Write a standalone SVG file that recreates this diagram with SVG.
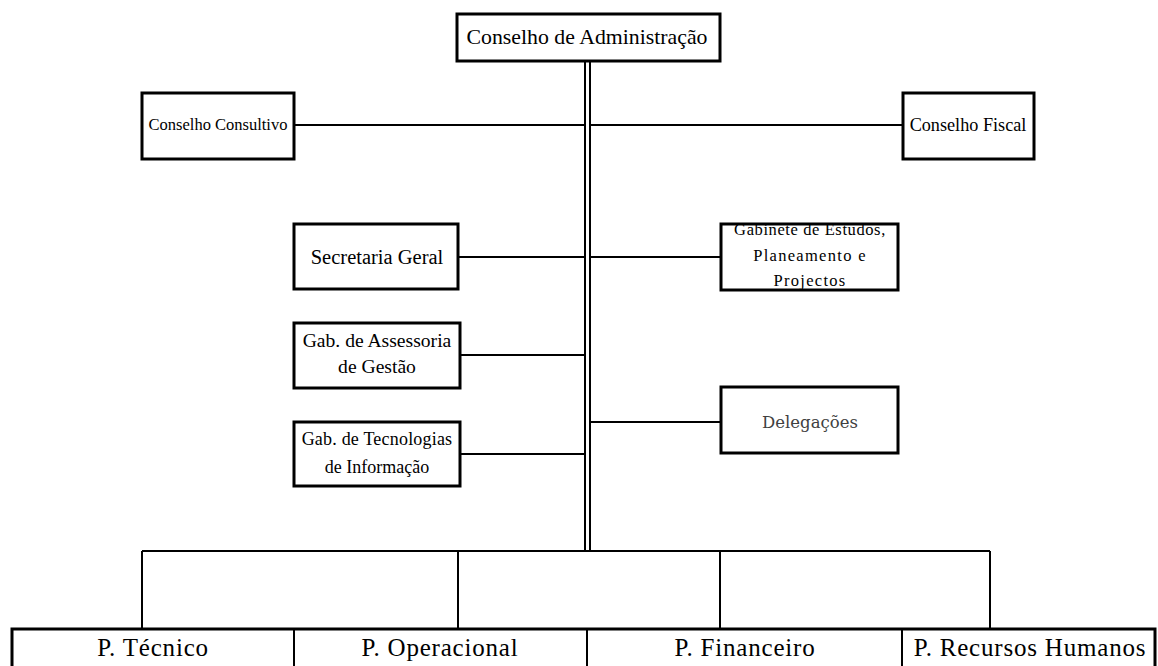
<svg xmlns="http://www.w3.org/2000/svg" width="1158" height="666" viewBox="0 0 1158 666">
<style>
.box{fill:#fff;stroke:#000;stroke-width:3}
.ln{stroke:#000;stroke-width:2;fill:none}
.t{font-family:"Liberation Serif","Times New Roman",serif;fill:#000;text-anchor:middle}
.b{font-size:25px;letter-spacing:0.8px}
</style>
<rect width="1158" height="666" fill="#fff"/>
<g id="connectors">
<line class="ln" x1="585" y1="61" x2="585" y2="551"/>
<line class="ln" x1="590" y1="61" x2="590" y2="551"/>
<line class="ln" x1="294" y1="125" x2="585" y2="125"/>
<line class="ln" x1="590" y1="125" x2="903" y2="125"/>
<line class="ln" x1="458" y1="257" x2="585" y2="257"/>
<line class="ln" x1="590" y1="257" x2="721" y2="257"/>
<line class="ln" x1="460" y1="355" x2="585" y2="355"/>
<line class="ln" x1="590" y1="422" x2="721" y2="422"/>
<line class="ln" x1="460" y1="454" x2="585" y2="454"/>
<line class="ln" x1="142" y1="551" x2="990" y2="551"/>
<line class="ln" x1="142" y1="551" x2="142" y2="629"/>
<line class="ln" x1="458" y1="551" x2="458" y2="629"/>
<line class="ln" x1="720" y1="551" x2="720" y2="629"/>
<line class="ln" x1="990" y1="551" x2="990" y2="629"/>
</g>
<g id="n-admin">
<rect class="box" x="457" y="14" width="263" height="47"/>
<text class="t" x="587" y="44" font-size="21.8">Conselho de Administração</text>
</g>
<g id="n-consultivo">
<rect class="box" x="142" y="93" width="152" height="66"/>
<text class="t" x="218" y="130" font-size="16.5">Conselho Consultivo</text>
</g>
<g id="n-fiscal">
<rect class="box" x="903" y="93" width="131" height="66"/>
<text class="t" x="968" y="131" font-size="18.2">Conselho Fiscal</text>
</g>
<g id="n-secretaria">
<rect class="box" x="294" y="224" width="164" height="65"/>
<text class="t" x="377" y="264" font-size="20.5">Secretaria Geral</text>
</g>
<g id="n-gabinete">
<svg x="721" y="224" width="177" height="66" overflow="hidden">
<text class="t" x="89" y="11" font-size="16.5" letter-spacing="0.6">Gabinete de Estudos,</text>
<text class="t" x="89" y="37" font-size="16.5" letter-spacing="1.3">Planeamento e</text>
<text class="t" x="89" y="62" font-size="16.5" letter-spacing="1.3">Projectos</text>
</svg>
<rect x="721" y="224" width="177" height="66" fill="none" stroke="#000" stroke-width="3"/>
</g>
<g id="n-assessoria">
<rect class="box" x="294" y="323" width="166" height="65"/>
<text class="t" x="377" y="347" font-size="19.6">Gab. de Assessoria</text>
<text class="t" x="377" y="373" font-size="19.6">de Gestão</text>
</g>
<g id="n-tecnologias">
<rect class="box" x="294" y="422" width="166" height="64"/>
<text class="t" x="377" y="445" font-size="18" letter-spacing="0.2">Gab. de Tecnologias</text>
<text class="t" x="377" y="473" font-size="18">de Informação</text>
</g>
<g id="n-delegacoes">
<rect class="box" x="721" y="387" width="177" height="66"/>
<text x="810" y="428" font-size="16.5" font-family="'DejaVu Serif',serif" fill="#404040" text-anchor="middle">Delegações</text>
</g>
<g id="n-bottom">
<rect class="box" x="12" y="629" width="1143" height="50" stroke-width="2.5"/>
<line class="ln" x1="294" y1="629" x2="294" y2="666" stroke-width="2.5"/>
<line class="ln" x1="587" y1="629" x2="587" y2="666" stroke-width="2.5"/>
<line class="ln" x1="902" y1="629" x2="902" y2="666" stroke-width="2.5"/>
</g>
<g id="n-tecnico"><text class="t b" x="153" y="656">P. Técnico</text></g>
<g id="n-operacional"><text class="t b" x="440" y="656">P. Operacional</text></g>
<g id="n-financeiro"><text class="t b" x="745" y="656">P. Financeiro</text></g>
<g id="n-rh"><text class="t b" x="1030" y="656">P. Recursos Humanos</text></g>
</svg>
